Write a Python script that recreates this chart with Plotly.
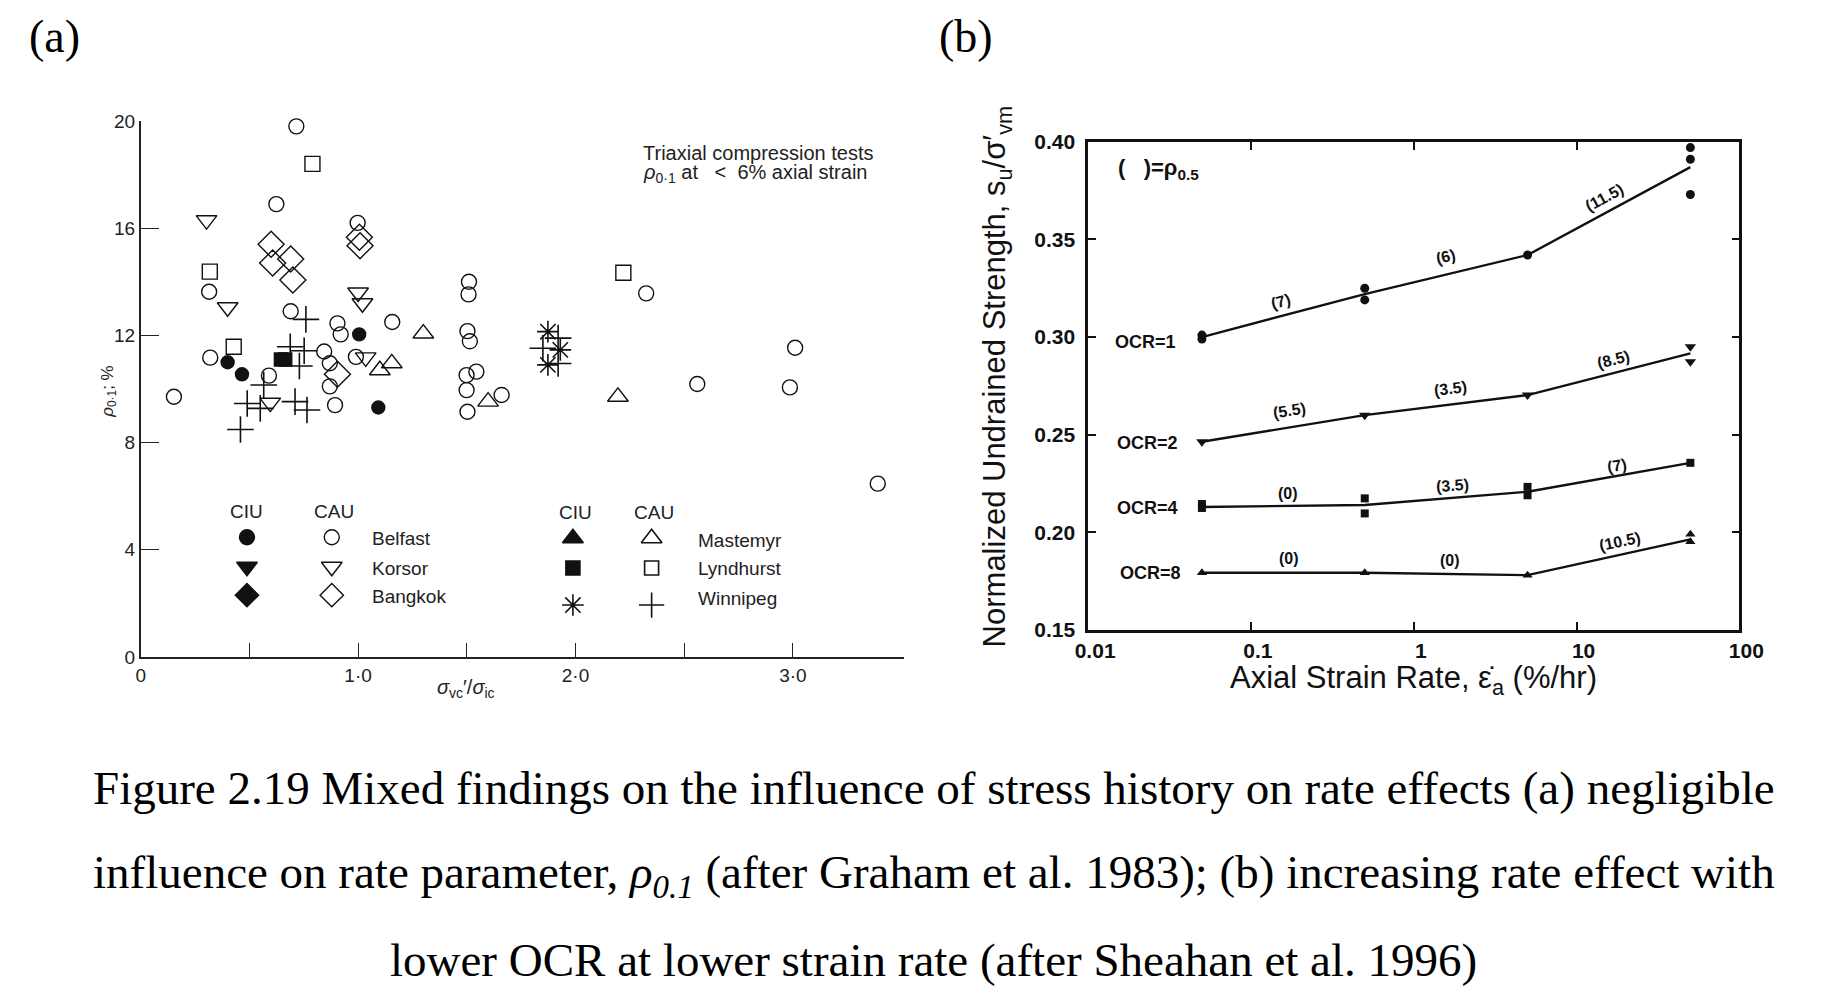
import math
import plotly.graph_objects as go

W, H = 1843, 1003
# The photographed page comes out slightly shrunk and offset; map target pixel -> figure pixel.
def PX(x): return ((x - 12) / 0.982) / W
def PY(y): return 1 - ((y - 12) / 0.977) / H

# ---------------- Panel (a) data: rho_0.1 (%) vs sigma'_vc / sigma'_ic ----------------
belfast_ciu_x = [0.40, 0.466, 1.005, 1.093]
belfast_ciu_y = [11.0, 10.55, 12.04, 9.31]
belfast_cau_x = [0.716, 0.624, 0.998, 0.315, 0.69, 0.905, 0.92, 1.157, 1.51, 1.508, 1.503, 1.514,
                 0.32, 0.59, 0.844, 0.87, 0.87, 0.99, 1.499, 1.544, 1.499, 1.503, 0.153, 0.894,
                 1.66, 2.325, 3.01, 2.56, 2.986, 3.39]
belfast_cau_y = [19.8, 16.9, 16.2, 13.63, 12.9, 12.45, 12.04, 12.5, 14.0, 13.53, 12.16, 11.78,
                 11.17, 10.5, 11.4, 10.96, 10.1, 11.2, 10.52, 10.65, 9.96, 9.15, 9.71, 9.4,
                 9.78, 13.57, 11.54, 10.19, 10.06, 6.47]
korsor_cau_x = [0.303, 0.40, 1.0, 1.02, 1.035, 0.596]
korsor_cau_y = [16.3, 13.05, 13.6, 13.2, 11.18, 9.49]
bangkok_cau_x = [0.60, 0.607, 0.69, 0.70, 1.006, 1.009, 0.905]
bangkok_cau_y = [15.4, 14.7, 14.85, 14.07, 15.66, 15.35, 10.55]
mastemyr_cau_x = [1.30, 1.10, 1.155, 1.598, 2.195]
mastemyr_cau_y = [12.07, 10.7, 10.96, 9.53, 9.71]
lyndhurst_ciu_x = [0.645, 0.665]
lyndhurst_ciu_y = [11.1, 11.1]
lyndhurst_cau_x = [0.79, 0.318, 0.428, 2.22]
lyndhurst_cau_y = [18.4, 14.38, 11.58, 14.34]
winnipeg_ciu_x = [1.873, 1.93, 1.873]
winnipeg_ciu_y = [12.14, 11.46, 10.9]
winnipeg_cau_x = [0.688, 0.752, 0.73, 0.76, 0.566, 0.49, 0.55, 0.459, 0.71, 0.765, 1.92, 1.85, 1.92]
winnipeg_cau_y = [11.58, 11.43, 10.86, 12.6, 10.15, 9.46, 9.28, 8.49, 9.53, 9.22, 11.9, 11.52, 10.95]

a_xtick_vals = [0, 0.5, 1.0, 1.5, 2.0, 2.5, 3.0]
a_xtick_text = ["0", "", "1·0", "", "2·0", "", "3·0"]
a_ytick_vals = [0, 4, 8, 12, 16, 20]
a_ytick_text = ["0", "4", "8", "12", "16", "20"]

legend_clays_1 = ["Belfast", "Korsor", "Bangkok"]
legend_clays_2 = ["Mastemyr", "Lyndhurst", "Winnipeg"]

# ---------------- Panel (b) data: su/sigma'vm vs axial strain rate ----------------
rates = [0.05, 0.5, 5, 50]
ocr1_line = [0.300, 0.322, 0.342, 0.387]
ocr2_line = [0.2464, 0.260, 0.2703, 0.2916]
ocr4_line = [0.213, 0.214, 0.2208, 0.2356]
ocr8_line = [0.1793, 0.1793, 0.1781, 0.1964]
ocr1_pts_x = [0.05, 0.05, 0.5, 0.5, 5, 50, 50, 50]
ocr1_pts_y = [0.301, 0.299, 0.325, 0.319, 0.342, 0.397, 0.391, 0.373]
ocr2_pts_x = [0.05, 0.5, 5, 50, 50]
ocr2_pts_y = [0.2464, 0.260, 0.2703, 0.295, 0.2873]
ocr4_pts_x = [0.05, 0.05, 0.5, 0.5, 5, 5, 50]
ocr4_pts_y = [0.2145, 0.2125, 0.2174, 0.2097, 0.2233, 0.219, 0.2356]
ocr8_pts_x = [0.05, 0.5, 5, 50, 50]
ocr8_pts_y = [0.1793, 0.1793, 0.1781, 0.1991, 0.1952]

rho_labels_ocr1 = ["(7)", "(6)", "(11.5)"]
rho_labels_ocr2 = ["(5.5)", "(3.5)", "(8.5)"]
rho_labels_ocr4 = ["(0)", "(3.5)", "(7)"]
rho_labels_ocr8 = ["(0)", "(0)", "(10.5)"]

b_xtick_vals = [0.01, 0.1, 1, 10, 100]
b_xtick_text = ["0.01", "0.1", "1", "10", "100"]

SANS = "Liberation Sans, Arial, sans-serif"
SERIF = "Liberation Serif, Times New Roman, serif"
INK = "#111111"

fig = go.Figure()

def add_a(xs, ys, symbol, size, lw=1.4, color=INK):
    fig.add_trace(go.Scatter(x=xs, y=ys, mode="markers", xaxis="x", yaxis="y",
                             cliponaxis=False, showlegend=False,
                             marker=dict(symbol=symbol, size=size, color=color,
                                         line=dict(color=INK, width=lw))))

add_a(belfast_cau_x, belfast_cau_y, "circle-open", 15)
add_a(korsor_cau_x, korsor_cau_y, "triangle-down-open", 18)
add_a(bangkok_cau_x, bangkok_cau_y, "diamond-open", 20)
add_a(mastemyr_cau_x, mastemyr_cau_y, "triangle-up-open", 18)
add_a(lyndhurst_cau_x, lyndhurst_cau_y, "square-open", 15)
add_a(winnipeg_cau_x, winnipeg_cau_y, "cross-thin-open", 19, lw=1.6)
add_a(belfast_ciu_x, belfast_ciu_y, "circle", 13)
add_a(lyndhurst_ciu_x, lyndhurst_ciu_y, "square", 13)
add_a(winnipeg_ciu_x, winnipeg_ciu_y, "asterisk-open", 18, lw=1.6)

# legend keys of panel (a)
leg1_ciu = ["circle", "triangle-down", "diamond"]
leg1_cau = ["circle-open", "triangle-down-open", "diamond-open"]
leg2_ciu = ["triangle-up", "square", "asterisk-open"]
leg2_cau = ["triangle-up-open", "square-open", "cross-thin-open"]
leg_rows_1 = [4.47, 3.37, 2.31]
leg_rows_2 = [4.43, 3.32, 1.94]
for i in range(3):
    add_a([0.489], [leg_rows_1[i]], leg1_ciu[i], 15 if i == 0 else 18)
    add_a([0.879], [leg_rows_1[i]], leg1_cau[i], 15 if i == 0 else 18)
    add_a([1.988], [leg_rows_2[i]], leg2_ciu[i], 18 if i != 1 else 14, lw=1.6)
    add_a([2.35], [leg_rows_2[i]], leg2_cau[i], 18 if i != 1 else 14, lw=1.6)

# ---------------- Panel (b) traces ----------------
def add_b(line_y, px_, py_, symbol, size):
    fig.add_trace(go.Scatter(x=rates, y=line_y, mode="lines", xaxis="x2", yaxis="y2",
                             line=dict(color=INK, width=2.4), showlegend=False))
    fig.add_trace(go.Scatter(x=px_, y=py_, mode="markers", xaxis="x2", yaxis="y2",
                             cliponaxis=False, showlegend=False,
                             marker=dict(symbol=symbol, size=size, color=INK)))

add_b(ocr1_line, ocr1_pts_x, ocr1_pts_y, "circle", 9)
add_b(ocr2_line, ocr2_pts_x, ocr2_pts_y, "triangle-down", 10)
add_b(ocr4_line, ocr4_pts_x, ocr4_pts_y, "square", 8)
add_b(ocr8_line, ocr8_pts_x, ocr8_pts_y, "triangle-up", 9)

ann = []
def ta(x, y, text, size=20, xanchor="center", xref="x", yref="y", family=SANS, angle=0, color="#222"):
    ann.append(dict(x=x, y=y, xref=xref, yref=yref, text=text, showarrow=False,
                    xanchor=xanchor, yanchor="middle", textangle=angle,
                    font=dict(family=family, size=size, color=color)))

# panel (a) texts
ta(2.30, 18.79, "Triaxial compression tests", 20, "left")
ta(2.30, 18.06, "<i>ρ</i><sub>0·1</sub> at &nbsp; &lt; &nbsp;6% axial strain", 20, "left")
ta(0.489, 5.42, "CIU", 19)
ta(0.887, 5.42, "CAU", 19)
ta(1.998, 5.38, "CIU", 19)
ta(2.36, 5.38, "CAU", 19)
for i, name in enumerate(legend_clays_1):
    ta(1.055, leg_rows_1[i] - 0.05, name, 19, "left")
leg2_text_rows = [4.33, 3.32, 2.2]
for i, name in enumerate(legend_clays_2):
    ta(2.554, leg2_text_rows[i], name, 19, "left")
ta(PX(108), PY(391), "<i>ρ</i><sub>0·1</sub>; %", 17, xref="paper", yref="paper", angle=-90)
ta(PX(466), PY(688), "<i>σ</i><sub>vc</sub>′/<i>σ</i><sub>ic</sub>", 20, xref="paper", yref="paper")

# panel (b) texts
def tb(x, y, text, size=16, angle=0, xanchor="center"):
    ann.append(dict(x=math.log10(x), y=y, xref="x2", yref="y2", text="<b>" + text + "</b>",
                    showarrow=False, xanchor=xanchor, yanchor="middle", textangle=angle,
                    font=dict(family=SANS, size=size, color=INK)))

tb(0.152, 0.318, rho_labels_ocr1[0], 16, -15)
tb(1.584, 0.341, rho_labels_ocr1[1], 16, -13)
tb(14.86, 0.3714, rho_labels_ocr1[2], 16, -28)
tb(0.172, 0.2622, rho_labels_ocr2[0], 16, -9)
tb(1.676, 0.2737, rho_labels_ocr2[1], 16, -7)
tb(16.9, 0.2885, rho_labels_ocr2[2], 16, -14)
tb(0.168, 0.2200, rho_labels_ocr4[0], 16, 0)
tb(1.72, 0.2242, rho_labels_ocr4[1], 16, -4)
tb(17.7, 0.2344, rho_labels_ocr4[2], 16, -10)
tb(0.172, 0.1867, rho_labels_ocr8[0], 16, 0)
tb(1.68, 0.1858, rho_labels_ocr8[1], 16, 0)
tb(18.45, 0.1952, rho_labels_ocr8[2], 16, -12)
tb(0.02265, 0.2975, "OCR=1", 18)
tb(0.0233, 0.2455, "OCR=2", 18)
tb(0.0233, 0.2123, "OCR=4", 18)
tb(0.0243, 0.1790, "OCR=8", 18)
tb(0.01484, 0.3858, "(&nbsp;&nbsp;&nbsp;)=ρ<sub>0.5</sub>", 22, 0, "left")

ta(PX(1416), PY(680), "Axial Strain Rate, ε̇<sub>a</sub> (%/hr)", 31, xref="paper", yref="paper", color=INK)
ta(PX(999), PY(376), "Normalized Undrained Strength, s<sub>u</sub>/σ′<sub>vm</sub>", 31,
   xref="paper", yref="paper", angle=-90, color=INK)

# panel labels and caption
ta(PX(54), PY(36), "(a)", 46, xref="paper", yref="paper", family=SERIF, color="#000")
ta(PX(968), PY(36), "(b)", 46, xref="paper", yref="paper", family=SERIF, color="#000")
caption = [
    "Figure 2.19 Mixed findings on the influence of stress history on rate effects (a) negligible",
    "influence on rate parameter, <i>ρ<sub>0.1</sub></i> (after Graham et al. 1983); (b) increasing rate effect with",
    "lower OCR at lower strain rate (after Sheahan et al. 1996)",
]
cap_y = [788, 875, 960]
for line, yy in zip(caption, cap_y):
    ta(PX(935), PY(yy), line, 47, xref="paper", yref="paper", family=SERIF, color="#000")

fig.update_layout(
    width=W, height=H, autosize=False,
    margin=dict(l=0, r=0, t=0, b=0),
    paper_bgcolor="white", plot_bgcolor="white",
    annotations=ann,
    xaxis=dict(domain=[PX(140), PX(905)], range=[0, 3.509], anchor="y",
               tickvals=a_xtick_vals, ticktext=a_xtick_text, ticks="inside", ticklen=14,
               tickwidth=1.4, tickcolor="#222", showline=True, linewidth=1.6, linecolor="#222",
               showgrid=False, zeroline=False, tickfont=dict(family=SANS, size=19, color="#222")),
    yaxis=dict(domain=[PY(657), PY(121)], range=[0, 20], anchor="x",
               tickvals=a_ytick_vals, ticktext=a_ytick_text, ticks="inside", ticklen=19,
               tickwidth=1.4, tickcolor="#222", showline=True, linewidth=1.6, linecolor="#222",
               showgrid=False, zeroline=False, tickfont=dict(family=SANS, size=19, color="#222")),
    xaxis2=dict(domain=[PX(1090), PX(1743)], type="log", range=[-2, 2], anchor="y2",
                tickvals=b_xtick_vals, ticktext=b_xtick_text, ticks="inside", ticklen=8, tickwidth=2,
                tickcolor=INK, showline=True, linewidth=2.6, linecolor=INK, mirror="ticks",
                showgrid=False, zeroline=False, ticklabelshift=7,
                tickfont=dict(family=SANS, size=21, color=INK, weight="bold")),
    yaxis2=dict(domain=[PY(630), PY(141.7)], range=[0.15, 0.40], anchor="x2",
                tickmode="linear", tick0=0.15, dtick=0.05, tickformat=".2f",
                ticks="inside", ticklen=8, tickwidth=2, tickcolor=INK,
                showline=True, linewidth=2.6, linecolor=INK, mirror="ticks",
                showgrid=False, zeroline=False, ticklabelstandoff=6,
                tickfont=dict(family=SANS, size=21, color=INK, weight="bold")),
)

fig.write_html("out.html")
